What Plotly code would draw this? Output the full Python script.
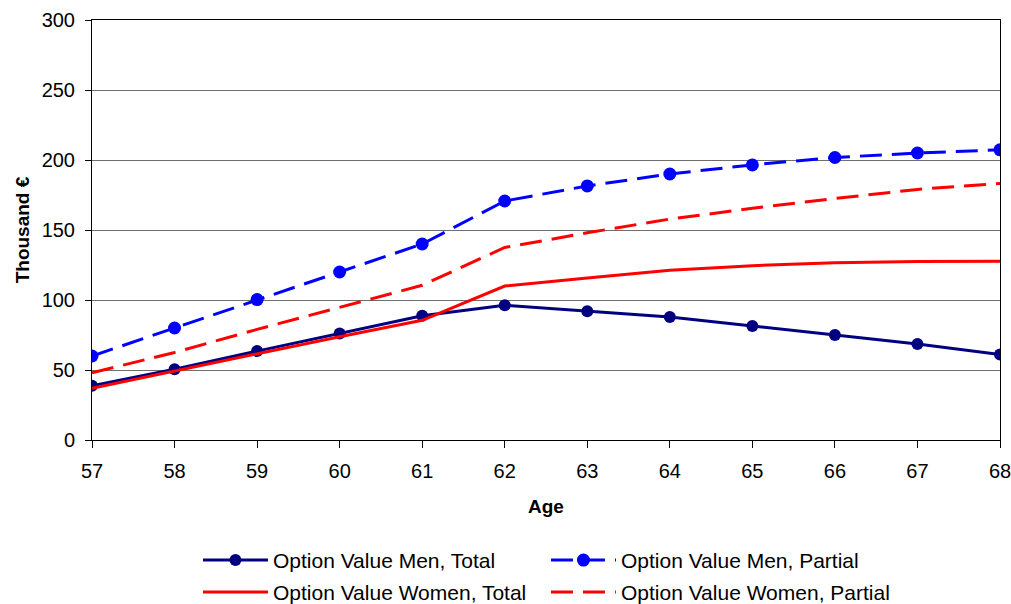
import plotly.graph_objects as go

# Age axis
ages = [57, 58, 59, 60, 61, 62, 63, 64, 65, 66, 67, 68]

# Option values in thousand euros
men_total = [38.8, 50.5, 63.5, 76.0, 88.8, 96.3, 92.0, 87.8, 81.5, 75.0, 68.5, 61.0]
men_partial = [60.0, 80.0, 100.3, 120.0, 140.0, 170.7, 181.5, 190.0, 196.5, 201.8, 205.0, 207.3]
women_total = [37.0, 49.3, 61.8, 73.8, 85.5, 110.0, 115.7, 121.3, 124.5, 126.6, 127.5, 127.6]
women_partial = [48.0, 62.5, 79.0, 94.5, 110.5, 137.5, 148.0, 157.8, 165.5, 172.5, 179.0, 183.3]

y_ticks = [0, 50, 100, 150, 200, 250, 300]

NAVY = "#000080"
BLUE = "#0000FF"
RED = "#FF0000"
DASH = "22px,10px"
FONT = "Liberation Sans, Arial, sans-serif"

fig = go.Figure()
# Row 1 of the legend: men; row 2: women
fig.add_trace(go.Scatter(
    x=ages, y=men_total, name="Option Value Men, Total", mode="lines+markers",
    line=dict(color=NAVY, width=3), marker=dict(color=NAVY, size=12),
    legend="legend",
))
fig.add_trace(go.Scatter(
    x=ages, y=men_partial, name="Option Value Men, Partial", mode="lines+markers",
    line=dict(color=BLUE, width=3, dash=DASH), marker=dict(color=BLUE, size=13),
    legend="legend",
))
fig.add_trace(go.Scatter(
    x=ages, y=women_total, name="Option Value Women, Total", mode="lines",
    line=dict(color=RED, width=3),
    legend="legend2",
))
fig.add_trace(go.Scatter(
    x=ages, y=women_partial, name="Option Value Women, Partial", mode="lines",
    line=dict(color=RED, width=3, dash=DASH),
    legend="legend2",
))

legend_common = dict(
    orientation="h", xanchor="left", yanchor="top", x=0.1167,
    entrywidth=268, entrywidthmode="pixels", itemwidth=65,
    font=dict(family=FONT, size=21, color="black"),
    bgcolor="rgba(0,0,0,0)", borderwidth=0,
)

fig.update_layout(
    width=1011, height=604,
    margin=dict(l=92, r=11, t=20, b=164, autoexpand=False),
    paper_bgcolor="white", plot_bgcolor="white",
    font=dict(family=FONT, size=20, color="black"),
    showlegend=True,
    legend=dict(legend_common, y=-0.238),
    legend2=dict(legend_common, y=-0.314),
    xaxis=dict(
        range=[57, 68], tickmode="array", tickvals=ages,
        ticks="outside", ticklen=7, tickcolor="black", tickwidth=1,
        ticklabelstandoff=6, ticklabeloverflow="allow",
        showline=True, linecolor="black", linewidth=1, mirror=True,
        showgrid=False, zeroline=False, automargin=False,
        title=dict(text="<b>Age</b>", font=dict(size=19), standoff=18),
        tickfont=dict(size=20),
    ),
    yaxis=dict(
        range=[0, 300], tickmode="array", tickvals=y_ticks,
        ticks="outside", ticklen=6, tickcolor="black", tickwidth=1,
        ticklabelstandoff=6, ticklabeloverflow="allow",
        showline=True, linecolor="black", linewidth=1, mirror=True,
        showgrid=True, gridcolor="#6e6e6e", gridwidth=1, zeroline=False,
        automargin=False,
        title=dict(text="<b>Thousand €</b>", font=dict(size=19), standoff=6),
        tickfont=dict(size=20),
    ),
)

fig.write_html("out.html")
